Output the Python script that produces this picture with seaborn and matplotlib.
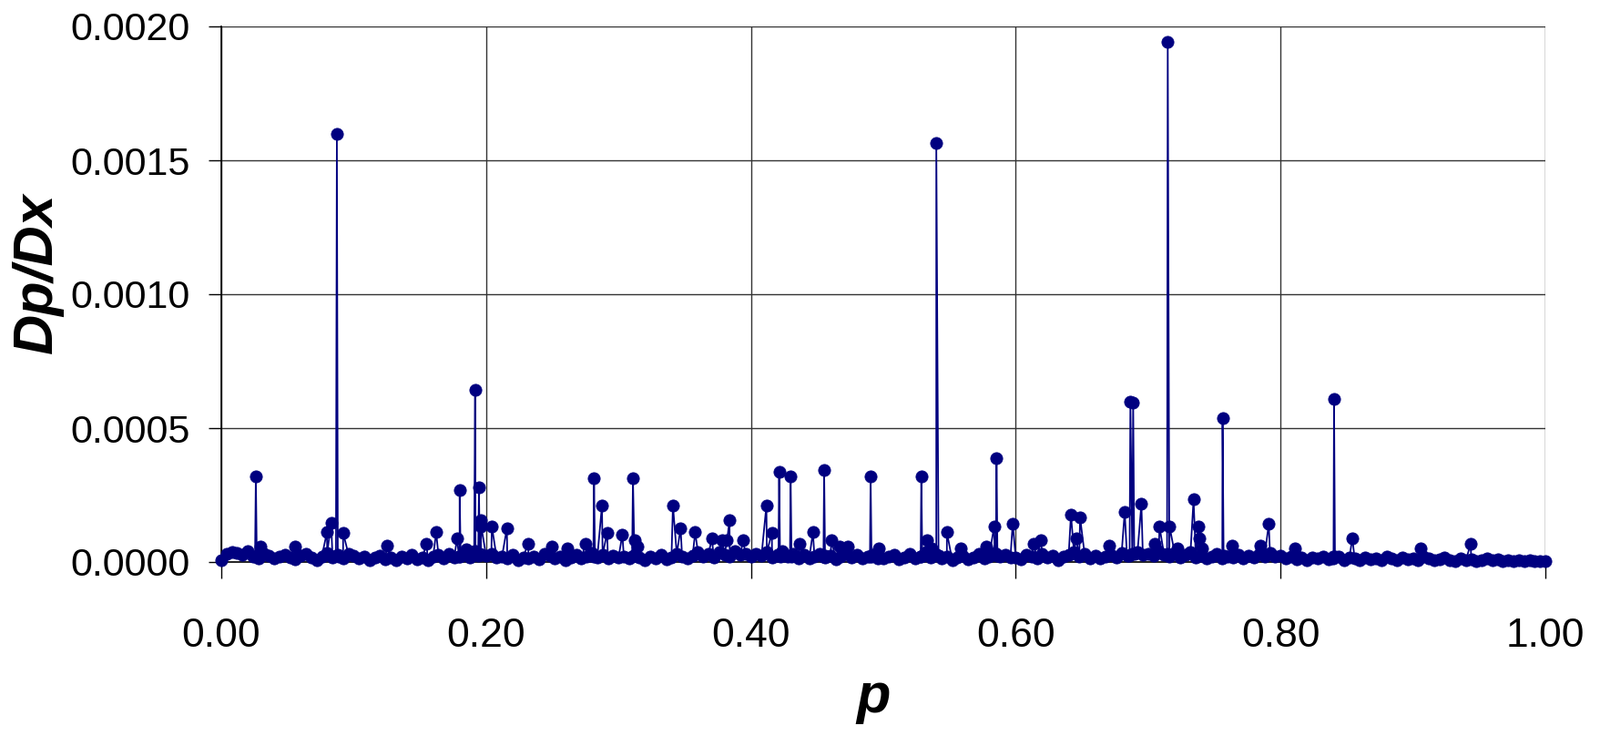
import numpy as np
import pandas as pd
import matplotlib
matplotlib.use("Agg")
import matplotlib.pyplot as plt
import seaborn as sns

# ---------------- data ----------------
# baseline samples (p every 0.004), values in units of 1e-6
base_p = [round(i * 0.004, 3) for i in range(251)]
base_v_e6 = [
    8, 30, 38, 35, 28, 40, 22, 15, 30, 25, 12, 20, 28, 18, 10, 24, 30, 16, 8, 22, 35, 18, 26, 12, 30,
    25, 14, 20, 8, 16, 24, 10, 18, 6, 22, 14, 28, 10, 18, 8, 20, 26, 12, 30, 16, 22, 35, 18, 40, 28,
    24, 30, 16, 20, 12, 26, 8, 18, 14, 22, 10, 30, 24, 12, 20, 8, 16, 26, 12, 22, 34, 18, 28, 14, 24,
    16, 22, 12, 28, 18, 8, 20, 14, 26, 10, 18, 30, 22, 14, 24, 36, 20, 30, 16, 38, 28, 22, 40, 26, 32,
    20, 30, 24, 36, 18, 28, 40, 22, 32, 14, 26, 12, 20, 30, 18, 24, 10, 22, 34, 16, 26, 12, 20, 28, 14,
    12, 20, 26, 10, 18, 30, 14, 22, 36, 18, 28, 12, 20, 8, 16, 24, 10, 18, 30, 14, 22, 34, 20, 28, 16,
    18, 10, 26, 20, 14, 30, 16, 24, 8, 20, 28, 36, 22, 30, 14, 24, 12, 20, 28, 16, 34, 24, 30, 38, 26,
    32, 24, 40, 28, 20, 34, 18, 26, 36, 16, 24, 12, 20, 30, 14, 22, 18, 28, 12, 24, 16, 30, 22, 34, 20,
    24, 14, 20, 10, 18, 8, 16, 12, 22, 10, 14, 20, 8, 16, 12, 6, 18, 10, 14, 8, 20, 12, 6, 16, 10,
    14, 8, 22, 12, 6, 10, 16, 8, 4, 12, 6, 10, 4, 8, 14, 6, 10, 4, 8, 3, 6, 4, 8, 3, 5,
    2,
]

# spikes (and the baseline points right beside the tall ones), values in units of 1e-6
spike_p = [
    0.0255, 0.0261, 0.0268, 0.0296, 0.0560, 0.0798, 0.0830,
    0.0866, 0.0873, 0.0889, 0.0920, 0.1250, 0.1550, 0.1623, 0.1780,
    0.1795, 0.1800, 0.1808, 0.1850, 0.1910, 0.1917, 0.1928,
    0.1940, 0.1946, 0.1952, 0.1958, 0.1963, 0.2043, 0.2157, 0.2318,
    0.2497, 0.2616, 0.2749, 0.2810, 0.2815, 0.2822, 0.2875, 0.2914,
    0.3029, 0.3103, 0.3109, 0.3125, 0.3143, 0.3411, 0.3469, 0.3579,
    0.3705, 0.3785, 0.3820, 0.3838, 0.3940, 0.4117, 0.4158,
    0.4208, 0.4213, 0.4220, 0.4295, 0.4300, 0.4307, 0.4370, 0.4468,
    0.4548, 0.4553, 0.4560, 0.4610, 0.4668, 0.4730, 0.4899, 0.4904, 0.4911,
    0.4966, 0.5282, 0.5287, 0.5294, 0.5328, 0.5367, 0.5395, 0.5400, 0.5417,
    0.5480, 0.5585, 0.5780, 0.5837, 0.5850, 0.5855, 0.5862, 0.5977,
    0.6135, 0.6188, 0.6417, 0.6456, 0.6486, 0.6708, 0.6823,
    0.6860, 0.6866, 0.6887, 0.6895, 0.6949, 0.7052, 0.7086,
    0.7143, 0.7148, 0.7162, 0.7220, 0.7343, 0.7380, 0.7385, 0.7410,
    0.7557, 0.7562, 0.7570, 0.7637, 0.7850, 0.7911, 0.8106,
    0.8399, 0.8404, 0.8411, 0.8542, 0.9058, 0.9436,
]
spike_v_e6 = [
    20, 321, 22, 58, 58, 112, 145,
    25, 1600, 20, 109, 60, 69, 111, 88,
    22, 268, 25, 49, 40, 644, 30,
    25, 279, 30, 156, 134, 134, 126, 69,
    58, 52, 69, 22, 313, 25, 211, 109,
    103, 22, 313, 80, 58, 211, 126, 111,
    88, 80, 80, 156, 80, 211, 109,
    25, 336, 22, 25, 319, 20, 69, 111,
    22, 343, 25, 80, 58, 58, 20, 321, 22,
    50, 22, 321, 25, 80, 50, 30, 1564, 25,
    111, 50, 58, 134, 30, 389, 25, 143,
    69, 80, 177, 88, 166, 60, 188,
    25, 598, 596, 30, 217, 69, 132,
    30, 1943, 132, 50, 234, 132, 90, 50,
    22, 539, 25, 60, 60, 143, 50,
    20, 610, 22, 88, 50, 69,
]

y_ticks = [0.0, 0.0005, 0.0010, 0.0015, 0.0020]
y_tick_labels = ["0.0000", "0.0005", "0.0010", "0.0015", "0.0020"]
x_ticks = [0.0, 0.2, 0.4, 0.6, 0.8, 1.0]
x_tick_labels = ["0.00", "0.20", "0.40", "0.60", "0.80", "1.00"]

df = pd.DataFrame({
    "p": base_p + spike_p,
    "v": [v * 1e-6 for v in base_v_e6] + [v * 1e-6 for v in spike_v_e6],
}).sort_values("p").reset_index(drop=True)

# ---------------- plot ----------------
sns.set_theme(style="white")
plt.rcParams["font.family"] = ["Liberation Sans", "DejaVu Sans"]

W, H = 1758, 808
fig = plt.figure(figsize=(W / 100, H / 100), dpi=100)
fig.patch.set_facecolor("white")
L, R, T, B = 243, 1697, 29, 617
ax = fig.add_axes([L / W, 1 - B / H, (R - L) / W, (B - T) / H])
ax.set_facecolor("white")

navy = "#000080"
sns.lineplot(data=df, x="p", y="v", estimator=None, sort=False, ax=ax,
             color=navy, linewidth=1.3, marker="o", markersize=9.5,
             markeredgecolor=navy, markerfacecolor=navy, markeredgewidth=0.6,
             clip_on=False, zorder=5)

ax.set_xlim(0, 1)
ax.set_ylim(0, 0.002)
ax.set_xticks(x_ticks)
ax.set_xticklabels(x_tick_labels)
ax.set_yticks(y_ticks)
ax.set_yticklabels(y_tick_labels)

ax.grid(True, color="#333333", linewidth=1.0)
ax.set_axisbelow(True)
for s in ["top", "right"]:
    ax.spines[s].set_visible(False)
ax.spines["left"].set_color("black")
ax.spines["left"].set_linewidth(1.2)
ax.spines["bottom"].set_color("black")
ax.spines["bottom"].set_linewidth(1.2)

ax.tick_params(axis="y", direction="out", length=10, width=1.0, color="black",
               pad=15, labelsize=31, left=True, labelcolor="black")
ax.tick_params(axis="x", direction="out", length=13, width=1.0, color="black",
               pad=31, labelsize=32, bottom=True, labelcolor="black")

ax.set_xlabel("p", fontsize=44, fontweight="bold", fontstyle="italic", color="black")
ax.set_ylabel("Dp/Dx", fontsize=44, fontweight="bold", fontstyle="italic", color="black")
ax.xaxis.set_label_coords(0.4924, -0.205)
ax.yaxis.set_label_coords(-0.119, 0.54)

fig.savefig("out.png", dpi=100, facecolor="white")
